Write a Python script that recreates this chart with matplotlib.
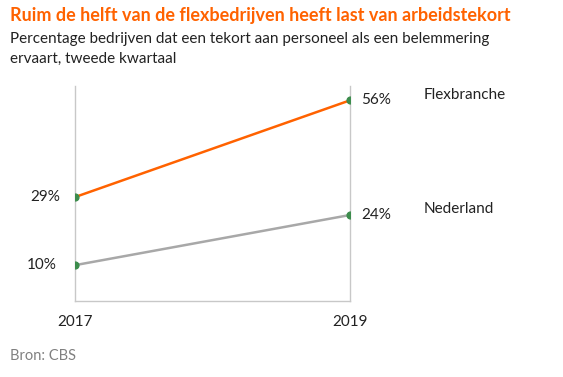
import matplotlib
matplotlib.use("Agg")
import matplotlib.pyplot as plt

years = [2017, 2019]
year_labels = ["2017", "2019"]
flex = [29, 56]
nl = [10, 24]
series_names = ["Flexbranche", "Nederland"]

plt.rcParams['font.family'] = ['Lato', 'DejaVu Sans']

W, H = 563, 377
fig = plt.figure(figsize=(W/100, H/100), dpi=100)
x0, x1 = 75, 350
y_top, y_bot = 86, 301
ax = fig.add_axes([x0/W, 1 - y_bot/H, (x1-x0)/W, (y_bot-y_top)/H])
ax.set_xlim(2017, 2019)
ax.set_ylim(0, 60)

orange = "#FF6200"
grey = "#A8A8A8"
green = "#3C8C4C"
ax.plot(years, flex, color=orange, lw=1.8, zorder=3)
ax.plot(years, nl, color=grey, lw=1.8, zorder=3)
ax.scatter(years, flex, s=24, color=green, zorder=4)
ax.scatter(years, nl, s=24, color=green, zorder=4)

for s in ["left", "right", "bottom"]:
    ax.spines[s].set_color("#C8C8C8")
    ax.spines[s].set_linewidth(1)
ax.spines["top"].set_visible(False)
ax.set_xticks(years)
ax.set_xticklabels(year_labels, fontsize=11, color="#222222")
ax.tick_params(axis="x", length=0, pad=10)
ax.set_yticks([])

txt = "#222222"
ax.annotate(f"{flex[0]}%", (years[0], flex[0]), xytext=(-11, 0), textcoords="offset points",
            ha="right", va="center", fontsize=11, color=txt)
ax.annotate(f"{nl[0]}%", (years[0], nl[0]), xytext=(-13, 0), textcoords="offset points",
            ha="right", va="center", fontsize=11, color=txt)
ax.annotate(f"{flex[1]}%", (years[1], flex[1]), xytext=(8, 0), textcoords="offset points",
            ha="left", va="center", fontsize=11, color=txt)
ax.annotate(f"{nl[1]}%", (years[1], nl[1]), xytext=(8, 0), textcoords="offset points",
            ha="left", va="center", fontsize=11, color=txt)
ax.annotate(series_names[0], (years[1], flex[1]), xytext=(53, 4), textcoords="offset points",
            ha="left", va="center", fontsize=11, color=txt)
ax.annotate(series_names[1], (years[1], nl[1]), xytext=(53, 4), textcoords="offset points",
            ha="left", va="center", fontsize=11, color=txt)

fig.text(10/W, 1 - 15/H, "Ruim de helft van de flexbedrijven heeft last van arbeidstekort",
         color=orange, fontsize=13, fontweight="bold", va="center", ha="left")
fig.text(10/W, 1 - 39/H, "Percentage bedrijven dat een tekort aan personeel als een belemmering",
         color=txt, fontsize=11, va="center", ha="left")
fig.text(10/W, 1 - 59/H, "ervaart, tweede kwartaal",
         color=txt, fontsize=11, va="center", ha="left")
fig.text(10/W, 1 - 356/H, "Bron: CBS", color="#808080", fontsize=10.5, va="center", ha="left")

fig.savefig("out.png", dpi=100)
